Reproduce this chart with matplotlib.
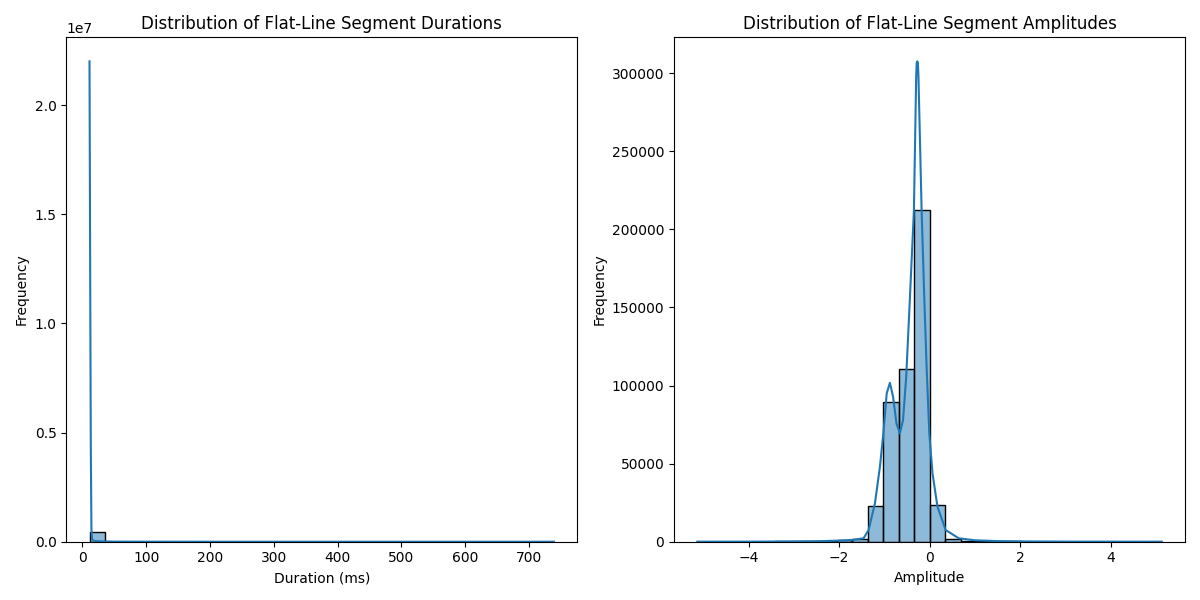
import numpy as np
import matplotlib
matplotlib.use("Agg")
import matplotlib.pyplot as plt

# ---- durations (ms), 30 bins between min and max ----
dur_min, dur_max = 11.0, 739.0
dur_counts = [447000, 6000, 3000, 2000, 1200, 800, 600, 450, 350, 280,
              220, 180, 150, 120, 100, 85, 70, 60, 50, 45,
              40, 35, 30, 28, 25, 22, 20, 18, 15, 12]
# kde curve (already scaled to counts)
dur_kde_x = [11, 12, 13, 14, 15, 17, 20, 30, 50, 100, 200, 400, 739]
dur_kde_y = [2.2e7, 1.3e7, 4.5e6, 6e5, 1.2e5, 5e4, 3e4, 1.5e4, 6000, 2000, 500, 150, 50]

# ---- amplitudes, 30 bins ----
amp_min, amp_max = -5.13, 5.12
amp_counts = [20, 30, 40, 60, 90, 150, 200, 300, 500, 800,
              1500, 23000, 89400, 110500, 212400, 23700, 2000, 600, 350, 250,
              180, 120, 90, 70, 50, 40, 30, 25, 20, 15]
amp_kde_x = [-5.13, -4.0, -3.0, -2.5, -2.0, -1.7, -1.46, -1.35, -1.21, -1.10,
             -1.025, -0.95, -0.88, -0.81, -0.735, -0.66, -0.59, -0.52, -0.44, -0.35,
             -0.30, -0.288, -0.275, -0.262, -0.25, -0.18, -0.12, -0.07, -0.01, 0.06,
             0.17, 0.35, 0.64, 1.0, 1.5, 2.0, 3.0, 4.0, 5.12]
amp_kde_y = [40, 60, 150, 300, 700, 1200, 2200, 7500, 24600, 48000,
             69000, 95000, 101700, 92800, 75700, 69300, 77900, 105600, 155000, 212000,
             298000, 306500, 307500, 306500, 298000, 212000, 155000, 112000, 69300, 43800,
             22400, 7500, 2200, 900, 400, 200, 80, 50, 30]

BLUE = "#1f77b4"


def draw_hist(ax, lo, hi, counts, kx, ky):
    edges = np.linspace(lo, hi, len(counts) + 1)
    width = edges[1] - edges[0]
    ax.bar(edges[:-1], counts, width=width, align="edge",
           facecolor=(0.1216, 0.4667, 0.7059, 0.5), edgecolor="black", linewidth=1.0)
    ax.plot(kx, ky, color=BLUE, linewidth=1.5)


fig, axes = plt.subplots(1, 2, figsize=(12, 6), dpi=100)

ax = axes[0]
draw_hist(ax, dur_min, dur_max, dur_counts, dur_kde_x, dur_kde_y)
ax.set_title("Distribution of Flat-Line Segment Durations")
ax.set_xlabel("Duration (ms)")
ax.set_ylabel("Frequency")

ax = axes[1]
draw_hist(ax, amp_min, amp_max, amp_counts, amp_kde_x, amp_kde_y)
ax.set_title("Distribution of Flat-Line Segment Amplitudes")
ax.set_xlabel("Amplitude")
ax.set_ylabel("Frequency")

plt.tight_layout()
plt.savefig("out.png")
